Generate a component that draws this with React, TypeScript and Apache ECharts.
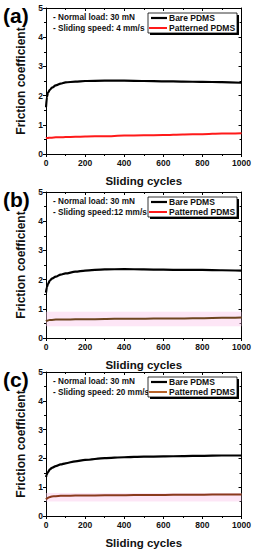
import React, { useEffect, useRef } from "react";
import * as echarts from "echarts";

const cycles = [0, 5, 10, 20, 30, 50, 75, 100, 150, 200, 300, 400, 500, 600, 700, 800, 900, 1000];
const bareA = [1.6, 1.95, 2.1, 2.2, 2.27, 2.35, 2.41, 2.45, 2.48, 2.5, 2.51, 2.51, 2.5, 2.49, 2.48, 2.47, 2.46, 2.44];
const patA = [0.54, 0.55, 0.55, 0.56, 0.56, 0.57, 0.57, 0.58, 0.59, 0.6, 0.61, 0.63, 0.64, 0.65, 0.67, 0.68, 0.7, 0.71];
const bareB = [1.55, 1.75, 1.85, 1.97, 2.03, 2.1, 2.17, 2.21, 2.27, 2.31, 2.35, 2.36, 2.35, 2.34, 2.33, 2.33, 2.32, 2.31];
const patB = [0.57, 0.59, 0.6, 0.62, 0.62, 0.63, 0.63, 0.63, 0.64, 0.64, 0.65, 0.66, 0.66, 0.67, 0.67, 0.68, 0.69, 0.7];
const bareC = [1.35, 1.45, 1.52, 1.62, 1.67, 1.73, 1.79, 1.83, 1.9, 1.95, 2.01, 2.04, 2.06, 2.07, 2.08, 2.09, 2.1, 2.1];
const patC = [0.58, 0.61, 0.63, 0.66, 0.68, 0.69, 0.7, 0.7, 0.71, 0.71, 0.72, 0.72, 0.73, 0.73, 0.74, 0.74, 0.75, 0.75];
const pinkBands: ([number, number] | null)[] = [null, [0.4, 0.9], [0.5, 0.8]];

const panelLabels = ["(a)", "(b)", "(c)"];
const loadLabel = "- Normal load: 30 mN";
const speedLabels = ["- Sliding speed: 4 mm/s", "- Sliding speed:12 mm/s", "- Sliding speed: 20 mm/s"];
const seriesNames = ["Bare PDMS", "Patterned PDMS"];
const xName = "Sliding cycles";
const yName = "Friction coefficient";

const FONT = '"Liberation Sans", Arial, sans-serif';
const GRID_LEFT = 46;
const GRID_W = 196;
const GRID_H = 146;
const gridTops = [8, 192, 372];
const patColors = ["#ff1a1a", "#6e4520", "#8a3a1c"];
const patLegendColors = ["#ff1a1a", "#ff1a1a", "#b8642a"];

export default function App() {
  const ref = useRef<HTMLDivElement>(null);
  useEffect(() => {
    if (!ref.current) return;
    const chart = echarts.init(ref.current, null, { renderer: "svg" });
    const bares = [bareA, bareB, bareC];
    const pats = [patA, patB, patC];

    const grid: any[] = [];
    const xAxis: any[] = [];
    const yAxis: any[] = [];
    const series: any[] = [];
    const graphic: any[] = [];

    gridTops.forEach((top, i) => {
      grid.push({ left: GRID_LEFT, top, width: GRID_W, height: GRID_H, containLabel: false });
      xAxis.push({
        type: "value", gridIndex: i, min: 0, max: 1000, interval: 200,
        name: xName, nameLocation: "middle", nameGap: 21,
        nameTextStyle: { fontFamily: FONT, fontWeight: "bold", fontSize: 11.5, color: "#111" },
        axisLine: { show: true, onZero: false, lineStyle: { color: "#000", width: 1 } },
        axisTick: { show: true, inside: false, length: 3, lineStyle: { color: "#000" } },
        minorTick: { show: true, splitNumber: 2, length: 2, lineStyle: { color: "#000" } },
        splitLine: { show: false },
        axisLabel: { fontFamily: FONT, fontWeight: "bold", fontSize: 8.5, color: "#111", margin: 4, formatter: (v: number) => String(v) },
      });
      yAxis.push({
        type: "value", gridIndex: i, min: 0, max: 5, interval: 1,
        name: yName, nameLocation: "middle", nameGap: 13,
        nameTextStyle: { fontFamily: FONT, fontWeight: "bold", fontSize: 12, color: "#111" },
        axisLine: { show: true, onZero: false, lineStyle: { color: "#000", width: 1 } },
        axisTick: { show: true, inside: false, length: 3, lineStyle: { color: "#000" } },
        minorTick: { show: true, splitNumber: 2, length: 2, lineStyle: { color: "#000" } },
        splitLine: { show: false },
        axisLabel: { fontFamily: FONT, fontWeight: "bold", fontSize: 8.5, color: "#111", margin: 3 },
      });
    });
    gridTops.forEach((top, i) => {
      xAxis.push({
        type: "value", gridIndex: i, min: 0, max: 1000, interval: 200, position: "top",
        axisLine: { show: true, onZero: false, lineStyle: { color: "#000", width: 1 } },
        axisTick: { show: true, inside: true, length: 3, lineStyle: { color: "#000" } },
        minorTick: { show: true, splitNumber: 2, length: 2, lineStyle: { color: "#000" } },
        splitLine: { show: false }, axisLabel: { show: false },
      });
      yAxis.push({
        type: "value", gridIndex: i, min: 0, max: 5, interval: 1, position: "right",
        axisLine: { show: true, onZero: false, lineStyle: { color: "#000", width: 1 } },
        axisTick: { show: true, inside: true, length: 3, lineStyle: { color: "#000" } },
        minorTick: { show: true, splitNumber: 2, length: 2, lineStyle: { color: "#000" } },
        splitLine: { show: false }, axisLabel: { show: false },
      });
    });

    gridTops.forEach((top, i) => {
      const band = pinkBands[i];
      series.push({
        type: "line", name: seriesNames[1], xAxisIndex: i, yAxisIndex: i,
        data: cycles.map((c, k) => [c, pats[i][k]]),
        showSymbol: false, smooth: 0.3, smoothMonotone: "x",
        lineStyle: { color: patColors[i], width: 2 },
        itemStyle: { color: patColors[i] },
        z: 3,
        markArea: band
          ? { silent: true, itemStyle: { color: "rgba(250,200,235,0.45)" }, data: [[{ yAxis: band[0] }, { yAxis: band[1] }]] }
          : undefined,
      });
      series.push({
        type: "line", name: seriesNames[0], xAxisIndex: i, yAxisIndex: i,
        data: cycles.map((c, k) => [c, bares[i][k]]),
        showSymbol: false, smooth: 0.3, smoothMonotone: "x",
        lineStyle: { color: "#000", width: 2.2 },
        itemStyle: { color: "#000" },
        z: 4,
      });

      graphic.push({
        type: "text", left: 3, top: top - 3,
        style: { text: panelLabels[i], fontFamily: FONT, fontWeight: "bold", fontSize: 21, fill: "#000" },
      });
      graphic.push({
        type: "text", x: GRID_LEFT + 7, y: top + 9,
        style: { text: loadLabel, fontFamily: FONT, fontWeight: "bold", fontSize: 8.2, fill: "#111", verticalAlign: "middle" },
      });
      graphic.push({
        type: "text", x: GRID_LEFT + 7, y: top + 20,
        style: { text: speedLabels[i], fontFamily: FONT, fontWeight: "bold", fontSize: 8.2, fill: "#111", verticalAlign: "middle" },
      });
      const bx = 148, by = top + 5, bw = 89, bh = 20;
      graphic.push({ type: "rect", shape: { x: bx + 2, y: by + 2, width: bw, height: bh }, style: { fill: "#000" }, z: 10 });
      graphic.push({ type: "rect", shape: { x: bx, y: by, width: bw, height: bh }, style: { fill: "#fff", stroke: "#000", lineWidth: 0.8 }, z: 11 });
      graphic.push({ type: "line", shape: { x1: bx + 3, y1: by + 5, x2: bx + 19, y2: by + 5 }, style: { stroke: "#000", lineWidth: 2.2 }, z: 12 });
      graphic.push({ type: "line", shape: { x1: bx + 1, y1: by + 15, x2: bx + 19, y2: by + 15 }, style: { stroke: patLegendColors[i], lineWidth: 2 }, z: 12 });
      graphic.push({
        type: "text", x: bx + 21, y: by + 5, z: 12,
        style: { text: seriesNames[0], fontFamily: FONT, fontWeight: "bold", fontSize: 8.5, fill: "#111", verticalAlign: "middle" },
      });
      graphic.push({
        type: "text", x: bx + 21, y: by + 15, z: 12,
        style: { text: seriesNames[1], fontFamily: FONT, fontWeight: "bold", fontSize: 8.5, fill: "#111", verticalAlign: "middle" },
      });
    });

    chart.setOption({
      animation: false,
      backgroundColor: "#fff",
      grid, xAxis, yAxis, series, graphic,
    });
    return () => chart.dispose();
  }, []);
  return <div ref={ref} style={{ position: "absolute", left: 0, top: 0, width: 254, height: 550 }} />;
}
